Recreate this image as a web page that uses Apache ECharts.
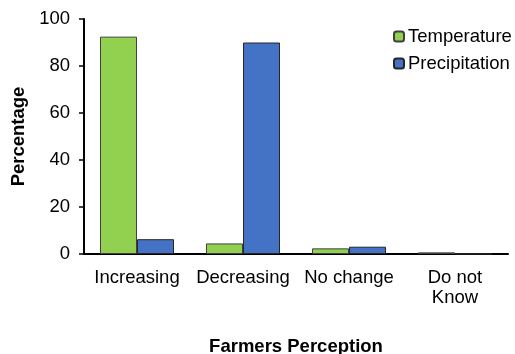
<!DOCTYPE html>
<html><head><meta charset="utf-8">
<script src="https://cdn.jsdelivr.net/npm/echarts@6/dist/echarts.min.js"></script>
<style>html,body{margin:0;padding:0;background:#fff}#c{width:515px;height:354px}</style>
</head><body><div id="c"></div>
<script>
var categories = ['Increasing', 'Decreasing', 'No change', 'Do not\nKnow'];
var temperature = [92.5, 4.5, 2.4, 0.7];
var precipitation = [6.3, 90, 3.1, 0.1];
var yTicks = [0, 20, 40, 60, 80, 100];

var chart = echarts.init(document.getElementById('c'));
var font = 'Arial, "Liberation Sans", sans-serif';
var fs = 18.5;
chart.setOption({
  animation: false,
  textStyle: { fontFamily: font },
  grid: { left: 84, right: 7, top: 19, bottom: 100, outerBoundsMode: 'none', containLabel: false },
  legend: {
    orient: 'vertical', left: 388, top: 22,
    itemWidth: 10, itemHeight: 10, itemGap: 8,
    textStyle: { fontSize: fs, color: '#000', fontFamily: font, padding: [0,0,0,-1], lineHeight: 19 },
    data: ['Temperature', 'Precipitation']
  },
  xAxis: {
    type: 'category', data: categories,
    axisLine: { lineStyle: { color: '#000', width: 2 } },
    axisTick: { show: false },
    axisLabel: { color: '#000', fontSize: fs, fontFamily: font, margin: 14, lineHeight: 20, interval: 0 },
    name: 'Farmers Perception', nameLocation: 'middle', nameGap: 83,
    nameTextStyle: { fontSize: fs, fontWeight: 'bold', color: '#000', fontFamily: font }
  },
  yAxis: {
    type: 'value', min: yTicks[0], max: yTicks[yTicks.length - 1], interval: 20,
    axisLine: { show: true, lineStyle: { color: '#000', width: 2 } },
    axisTick: { show: true, length: 5, lineStyle: { color: '#000', width: 1.5 } },
    splitLine: { show: false },
    axisLabel: { color: '#000', fontSize: fs, fontFamily: font, margin: 14 },
    name: 'Percentage', nameLocation: 'middle', nameGap: 56,
    nameTextStyle: { fontSize: fs, fontWeight: 'bold', color: '#000', fontFamily: font }
  },
  series: [
    { name: 'Temperature', type: 'bar', data: temperature, barWidth: 37, barGap: '0%',
      itemStyle: { color: '#92d050', borderColor: '#404040', borderWidth: 1 } },
    { name: 'Precipitation', type: 'bar', data: precipitation, barWidth: 37, barGap: '0%',
      itemStyle: { color: '#4472c4', borderColor: '#262626', borderWidth: 1 } }
  ]
});
</script></body></html>
